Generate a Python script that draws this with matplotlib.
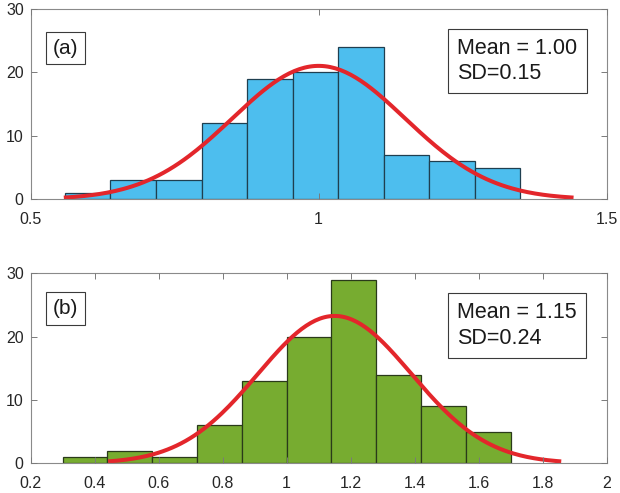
import numpy as np
import matplotlib
matplotlib.use('Agg')
import matplotlib.pyplot as plt

plt.rcParams['font.family'] = ['Liberation Sans', 'DejaVu Sans']

# histogram (a)
edges_a = [0.559, 0.638, 0.717, 0.797, 0.876, 0.955, 1.034, 1.113, 1.192, 1.271, 1.350]
counts_a = [1, 3, 3, 12, 19, 20, 24, 7, 6, 5]
mean_a, sd_a = 1.00, 0.15

# histogram (b)
edges_b = [0.30, 0.44, 0.58, 0.72, 0.86, 1.00, 1.14, 1.28, 1.42, 1.56, 1.70]
counts_b = [1, 2, 1, 6, 13, 20, 29, 14, 9, 5]
mean_b, sd_b = 1.15, 0.24

xticks_a = [0.5, 1, 1.5]
xticks_b = [0.2, 0.4, 0.6, 0.8, 1, 1.2, 1.4, 1.6, 1.8, 2]
xticklabels_a = ['0.5', '1', '1.5']
xticklabels_b = ['0.2', '0.4', '0.6', '0.8', '1', '1.2', '1.4', '1.6', '1.8', '2']
yticks = [0, 10, 20, 30]


def draw_panel(ax, edges, counts, mu, sd, color, edgecol, tag, tag_y, xlim, xticks, xticklabels):
    edges = np.array(edges)
    widths = np.diff(edges)
    ax.bar(edges[:-1], counts, width=widths, align='edge', color=color,
           edgecolor=edgecol, linewidth=0.9)
    # normal fit scaled to counts
    n = sum(counts)
    w = widths.mean()
    xs = np.linspace(mu - 2.95 * sd, mu + 2.95 * sd, 200)
    ys = n * w / (sd * np.sqrt(2 * np.pi)) * np.exp(-0.5 * ((xs - mu) / sd) ** 2)
    ax.plot(xs, ys, color='#e3262b', lw=2.9, solid_capstyle='butt')
    ax.set_xlim(xlim)
    ax.set_ylim(0, 30)
    ax.set_xticks(xticks)
    ax.set_xticklabels(xticklabels)
    ax.set_yticks(yticks)
    ax.set_axisbelow(False)
    ax.tick_params(direction='in', length=4, width=0.7, top=True, right=True,
                   labelsize=11.5, colors='#7a7a7a', labelcolor='#262626')
    ax.tick_params(axis='x', pad=9)
    ax.tick_params(axis='y', pad=5)
    for s in ax.spines.values():
        s.set_color('#8a8a8a')
        s.set_linewidth(0.8)
    ax.text(0.0604, tag_y, tag, transform=ax.transAxes, fontsize=15, va='center',
            ha='center', color='#1a1a1a',
            bbox=dict(boxstyle='square,pad=0.33', fc='white', ec='#3a3a3a', lw=0.8))
    ax.text(0.741, 0.727, 'Mean = %.2f\nSD=%.2f' % (mu, sd), transform=ax.transAxes,
            fontsize=15.5, va='center', ha='left', color='#1a1a1a', linespacing=1.3,
            bbox=dict(boxstyle='square,pad=0.42', fc='white', ec='#3a3a3a', lw=0.8))


fig = plt.figure(figsize=(6.2, 4.93), dpi=100)
ax1 = fig.add_axes([0.0495, 0.5957, 0.929, 0.386])
ax2 = fig.add_axes([0.0495, 0.0602, 0.929, 0.3854])

draw_panel(ax1, edges_a, counts_a, mean_a, sd_a, '#4dbeee', '#1f3f50', '(a)', 0.795,
           (0.5, 1.5), xticks_a, xticklabels_a)
draw_panel(ax2, edges_b, counts_b, mean_b, sd_b, '#77ac30', '#2a3a1a', '(b)', 0.816,
           (0.2, 2.0), xticks_b, xticklabels_b)

fig.savefig('out.png', dpi=100)
